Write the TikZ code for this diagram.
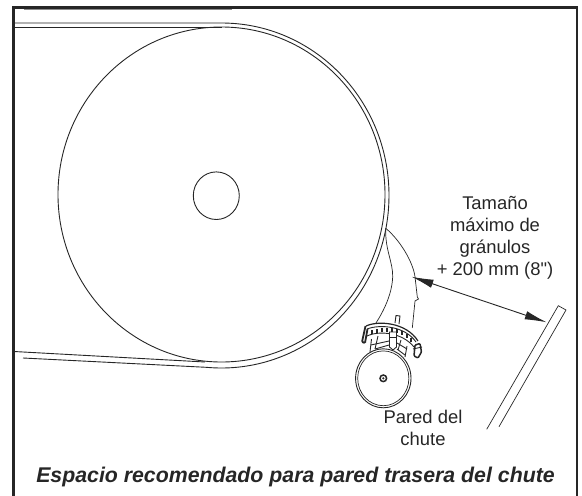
\documentclass[tikz,border=0pt]{standalone}
\usepackage{fontspec}
\setmainfont[Ligatures=TeXOff]{Liberation Sans}
\usetikzlibrary{arrows.meta}
\tikzset{
    edge line/.style={line width=0.9pt, black!85},
    thin line/.style={line width=0.7pt, black!85},
    frame line/.style={line width=2.4pt, black!85},
    label text/.style={font=\fontsize{18.4}{22}\selectfont, align=center, inner sep=0pt, text=black!85},
    gap arrow/.style={line width=0.9pt, black!85, {Latex[length=22pt,width=8.5pt]}-{Latex[length=22pt,width=8.5pt]}}
}
\begin{document}
\begin{tikzpicture}[x=1pt, y=-1pt]
\useasboundingbox (0,0) rectangle (582,496);
% frame
\draw[frame line] (13.5,496) -- (13.5,7.5) -- (577,7.5) -- (577,496);
\draw[line width=1pt, black!45] (24,9.6) -- (232,9.6);
% belt and pulley
\draw[edge line] (221.5,194.5) circle[x radius=163.5pt, y radius=167.5pt];
\draw[edge line] (14,27) -- (221.5,27);
\draw[edge line] (14,23) -- (221.5,23)
    arc[start angle=90, end angle=-95, x radius=167.5pt, y radius=172.5pt]
    -- (23,358);
\draw[edge line] (14,351.5) -- (205,362);
\draw[edge line] (216.3,195.7) circle[x radius=23pt, y radius=23.8pt];
% chute skirt
\draw[thin line] (385.7,228.3) .. controls (400,240) and (413,262) .. (415,276.7)
    -- (417.3,297) -- (418.5,299) -- (415,301) -- (412.3,328);
\draw[thin line] (385.7,228.3) .. controls (385,250) and (393,262) .. (392.7,276.7)
    .. controls (392,295) and (383,312) .. (376,323);
% return roller
\draw[edge line] (383.3,378.3) circle[x radius=27.7pt, y radius=29.5pt];
\draw[thin line] (383.3,378.3) circle[x radius=25.6pt, y radius=27.4pt];
\draw[line width=1.5pt, black!85] (383.3,378.3) circle[radius=3.3pt];
\fill[black!85] (383.3,378.3) circle[radius=1.2pt];
% roller mount
\draw[edge line, fill=white] (395,323) -- (396,315.5) -- (400,316) -- (399,324);
\draw[line width=1.2pt, black!85] (366,326) .. controls (378,320.5) and (406,322) .. (418,341);
\draw[edge line] (367,329) .. controls (380,324) and (405,326) .. (416,342);
\draw[edge line] (367,336) .. controls (380,330) and (403,333) .. (414,347);
\foreach \tx/\ty in {372/330,377/329,382/328,387/328,392/328,397/329,402/331,407/334,411/338}
    \draw[line width=1.3pt, black!85] (\tx,\ty) -- ++(0,4);
\draw[line width=1.8pt, black!85, rounded corners=1pt] (365.5,326) -- (362,342) -- (365,343) -- (367.5,329);
\draw[edge line] (371.5,339) -- (370,352);
\draw[edge line] (378,336) -- (375,349);
\draw[edge line] (371,345) -- (389,341);
\draw[edge line] (375,349) -- (389,345);
\draw[edge line] (407,346) -- (405,357);
\draw[edge line] (401,340) -- (398,350);
\draw[edge line] (397,343) -- (407,349);
\draw[edge line] (397,349) -- (405,355);
\draw[edge line, fill=white] (389.5,332) -- (396.5,332) -- (396.5,347) -- (393,350) -- (389.5,347) -- cycle;
\draw[edge line] (389.5,337) -- (396.5,337);
\draw[line width=1.5pt, black!85, rounded corners=1pt, fill=white] (415,345) -- (420,343.5) -- (421.5,352) -- (418,358) -- (414,356) -- cycle;
\draw[edge line] (413,349) -- (422,347);
% chute wall
\draw[thin line] (486.7,429.3) -- (558.3,305.7) -- (566,310) -- (499,426.7);
% clearance
\coordinate (gapbelt) at (411.5,276.7);
\coordinate (gapwall) at (546.7,322.3);
\draw[gap arrow] (gapbelt) -- (gapwall);
% labels
\node[label text] (gaplabel) at (495,237.5) {Tamaño\\máximo de\\gránulos\\+ 200 mm (8")};
\node[label text] (walllabel) at (423,427.5) {Pared del\\chute};
\node[anchor=base, font=\fontsize{21.3}{24}\selectfont\bfseries\itshape, inner sep=0pt, text=black!85] (caption) at (295.5,482) {Espacio recomendado para pared trasera del chute};
\end{tikzpicture}
\end{document}
